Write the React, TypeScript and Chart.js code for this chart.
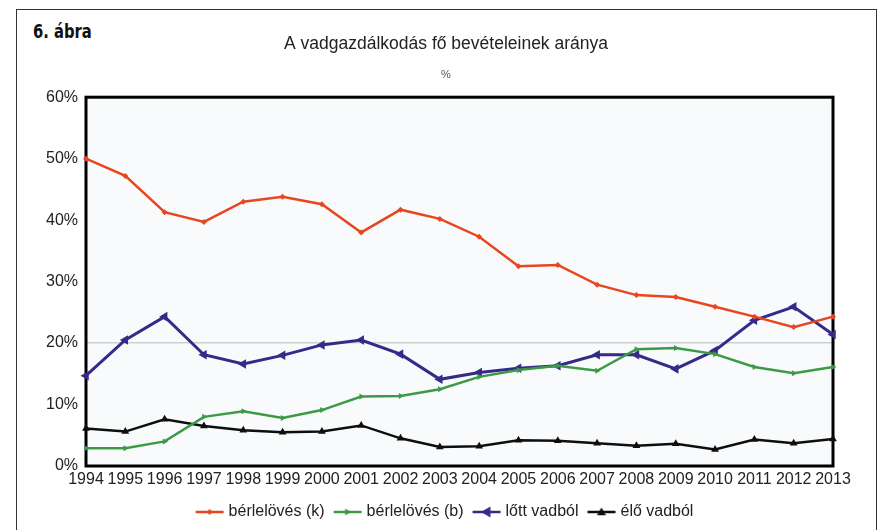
import React, { useEffect, useRef } from "react";
import { Chart, registerables } from "chart.js";

Chart.register(...registerables);

const years = ["1994", "1995", "1996", "1997", "1998", "1999", "2000", "2001", "2002", "2003", "2004", "2005", "2006", "2007", "2008", "2009", "2010", "2011", "2012", "2013"];
const berlelovesK = [50.0, 47.2, 41.3, 39.7, 43.0, 43.8, 42.6, 38.0, 41.7, 40.2, 37.3, 32.5, 32.7, 29.5, 27.8, 27.5, 25.9, 24.3, 22.6, 24.3];
const berlelovesB = [2.9, 2.9, 4.0, 8.0, 8.9, 7.8, 9.1, 11.3, 11.4, 12.5, 14.5, 15.6, 16.3, 15.5, 19.0, 19.2, 18.2, 16.1, 15.1, 16.1];
const lottVadbol = [14.7, 20.5, 24.3, 18.1, 16.6, 18.0, 19.7, 20.5, 18.2, 14.1, 15.2, 15.9, 16.3, 18.1, 18.1, 15.8, 18.8, 23.7, 25.9, 21.4];
const eloVadbol = [6.1, 5.6, 7.6, 6.5, 5.8, 5.5, 5.6, 6.6, 4.5, 3.1, 3.2, 4.2, 4.1, 3.7, 3.3, 3.6, 2.7, 4.3, 3.7, 4.4];
const seriesNames = ["bérlelövés (k)", "bérlelövés (b)", "lőtt vadból", "élő vadból"];
const yMin = 0;
const yMax = 60;
const yStep = 10;
const chartTitle = "A vadgazdálkodás fő bevételeinek aránya";
const chartSubtitle = "%";
const figureLabel = "6. ábra";

const COLORS = ["#e8461e", "#3c9a46", "#36298a", "#0e0e0e"];
const FONT = "'Liberation Sans', Arial, sans-serif";

function drawMarker(ctx: CanvasRenderingContext2D, style: string, rotation: number, r: number, x: number, y: number) {
  ctx.save();
  ctx.translate(x, y);
  ctx.rotate((rotation * Math.PI) / 180);
  ctx.beginPath();
  if (style === "triangle") {
    ctx.moveTo(0, -r);
    ctx.lineTo(r, r * 0.7);
    ctx.lineTo(-r, r * 0.7);
    ctx.closePath();
  } else {
    ctx.moveTo(0, -r);
    ctx.lineTo(r, 0);
    ctx.lineTo(0, r);
    ctx.lineTo(-r, 0);
    ctx.closePath();
  }
  ctx.fill();
  ctx.restore();
}

function makeIcon(color: string, style: string, rotation: number, r: number): HTMLCanvasElement {
  const c = document.createElement("canvas");
  c.width = 30;
  c.height = 14;
  const ctx = c.getContext("2d")!;
  ctx.strokeStyle = color;
  ctx.fillStyle = color;
  ctx.lineWidth = 2.5;
  ctx.beginPath();
  ctx.moveTo(1, 7);
  ctx.lineTo(29, 7);
  ctx.stroke();
  drawMarker(ctx, style, rotation, r, 15, 7);
  return c;
}

export default function App() {
  const ref = useRef<HTMLCanvasElement>(null);

  useEffect(() => {
    if (!ref.current) return;
    const markerStyles = [
      { style: "rectRot", rot: 0, r: 3 },
      { style: "triangle", rot: 90, r: 3.5 },
      { style: "triangle", rot: -90, r: 5.5 },
      { style: "triangle", rot: 0, r: 4.5 },
    ];
    const icons = markerStyles.map((m, i) => makeIcon(COLORS[i], m.style === "rectRot" ? "diamond" : "triangle", m.rot, m.r));
    const values = [berlelovesK, berlelovesB, lottVadbol, eloVadbol];
    const widths = [2.5, 2.5, 3, 2.5];

    const plotFrame = {
      id: "plotFrame",
      beforeDatasetsDraw(chart: any) {
        const { ctx, chartArea } = chart;
        ctx.save();
        ctx.strokeStyle = "#000";
        ctx.lineWidth = 3;
        ctx.strokeRect(chartArea.left, chartArea.top, chartArea.right - chartArea.left, chartArea.bottom - chartArea.top);
        ctx.restore();
      },
      beforeDraw(chart: any) {
        const { ctx, chartArea } = chart;
        ctx.save();
        ctx.fillStyle = "#f8fafb";
        ctx.fillRect(chartArea.left, chartArea.top, chartArea.right - chartArea.left, chartArea.bottom - chartArea.top);
        ctx.restore();
      },
    };

    const chart = new Chart(ref.current, {
      type: "line",
      data: {
        labels: years,
        datasets: values.map((v, i) => ({
          label: seriesNames[i],
          data: v,
          borderColor: COLORS[i],
          backgroundColor: COLORS[i],
          borderWidth: widths[i],
          pointStyle: markerStyles[i].style as any,
          rotation: markerStyles[i].rot,
          pointRadius: markerStyles[i].r,
          pointBorderWidth: 0,
          tension: 0,
          clip: false as any,
        })),
      },
      options: {
        animation: false,
        responsive: false,
        layout: { padding: { left: 10, right: 0, top: 0, bottom: 0 } },
        plugins: {
          tooltip: { enabled: false },
          title: {
            display: true,
            text: chartTitle,
            color: "#222",
            font: { family: FONT, size: 17.5, weight: "normal" },
            padding: { top: 34, bottom: 10 },
          },
          subtitle: {
            display: true,
            text: chartSubtitle,
            color: "#555",
            font: { family: FONT, size: 11 },
            padding: { top: 3, bottom: 16 },
          },
          legend: {
            position: "bottom",
            labels: {
              color: "#222",
              font: { family: FONT, size: 16 },
              usePointStyle: true,
              pointStyleWidth: 22,
              boxHeight: 12,
              padding: 12,
              generateLabels: (ch: any) =>
                ch.data.datasets.map((ds: any, i: number) => ({
                  text: ds.label,
                  fillStyle: COLORS[i],
                  strokeStyle: COLORS[i],
                  lineWidth: 0,
                  pointStyle: icons[i],
                  rotation: 0,
                  hidden: false,
                  datasetIndex: i,
                  fontColor: "#222",
                })),
            },
          },
        },
        scales: {
          x: {
            grid: { display: false, drawTicks: false },
            border: { display: false },
            offset: false,
            ticks: {
              color: "#222",
              font: { family: FONT, size: 16 },
              padding: 4,
              autoSkip: false,
              maxRotation: 0,
              minRotation: 0,
            },
            afterFit: (s: any) => {
              s.height = 26;
            },
          },
          y: {
            min: yMin,
            max: yMax,
            grid: {
              drawTicks: false,
              color: (c: any) => (c.tick && c.tick.value === 20 ? "#cfcfcf" : "rgba(0,0,0,0)"),
              lineWidth: 1.5,
            },
            border: { display: false },
            ticks: {
              stepSize: yStep,
              color: "#222",
              font: { family: FONT, size: 16 },
              padding: 8,
              callback: (v: any) => v + "%",
            },
            afterFit: (s: any) => {
              s.width = 76;
            },
          },
          yRight: {
            type: "linear",
            position: "right",
            display: true,
            min: yMin,
            max: yMax,
            grid: { display: false, drawTicks: false },
            border: { display: false },
            ticks: { display: false },
            afterFit: (s: any) => {
              s.width = 49;
            },
          },
        },
      },
      plugins: [plotFrame],
    });
    return () => chart.destroy();
  }, []);

  return (
    <div style={{ position: "fixed", left: 0, top: 0, width: 882, height: 530, overflow: "hidden", background: "#fff" }}>
      <div
        style={{
          position: "absolute",
          left: 16,
          top: 9,
          width: 861,
          height: 560,
          border: "1.5px solid #333",
          boxSizing: "border-box",
        }}
      />
      <div
        style={{
          position: "absolute",
          left: 33,
          top: 19,
          fontFamily: "'DejaVu Sans Condensed', 'Liberation Sans Narrow', sans-serif",
          fontWeight: 700,
          fontSize: 20,
          color: "#111",
          lineHeight: "24px",
          transform: "scaleX(0.82)",
          transformOrigin: "left top",
          whiteSpace: "nowrap",
        }}
      >
        {figureLabel}
      </div>
      <canvas ref={ref} width={882} height={530} style={{ position: "absolute", left: 0, top: 0 }} />
    </div>
  );
}
